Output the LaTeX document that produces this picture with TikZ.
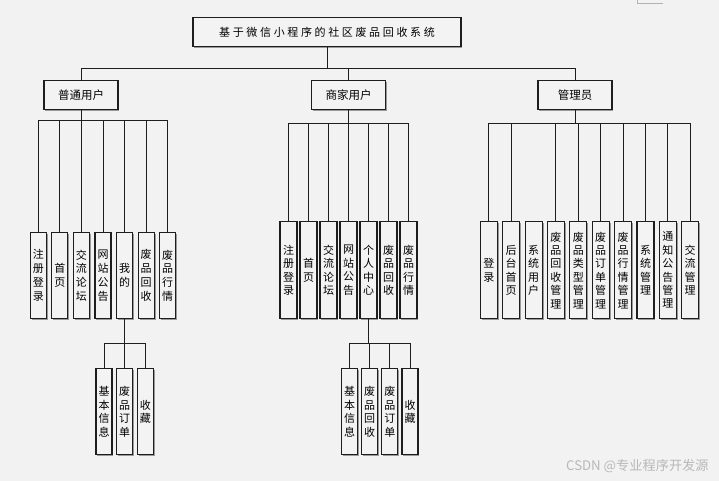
\documentclass[tikz,border=0pt]{standalone}
\usepackage{fontspec}
\setmainfont{Noto Sans CJK SC}
\newfontfamily\titlefont[LetterSpace=24]{Noto Sans CJK SC}
\usetikzlibrary{shadows}
\definecolor{bg}{HTML}{F2F2F2}
\definecolor{boxfill}{HTML}{F3F3F3}
\definecolor{ln}{HTML}{1E1E1E}
\begin{document}
\begin{tikzpicture}[x=1pt,y=-1pt,
  box/.style={draw=ln, line width=1.1pt, fill=boxfill, inner sep=0pt,
    general shadow={fill=black!40, shadow xshift=1.4pt, shadow yshift=-1.4pt}},
  topbox/.style={box, minimum width=268pt, minimum height=29pt, font=\fontsize{11}{13}\titlefont},
  midbox/.style={box, minimum width=74pt, minimum height=29pt, font=\fontsize{11.5}{13}\selectfont},
  ubox/.style={box, minimum width=16pt, minimum height=86pt, align=center, font=\fontsize{11}{13.8}\selectfont},
  mbox/.style={box, minimum width=17pt, minimum height=97pt, align=center, font=\fontsize{11}{13.4}\selectfont},
  conn/.style={draw=ln, line width=0.9pt},
  mark text/.style={text=black!28, font=\fontsize{13.2}{15}\selectfont, anchor=west, inner sep=0pt}]
\fill[bg] (0,0) rectangle (719,480);
\draw[black!30, line width=1pt] (637.3,0) -- (637.3,3.5) -- (662.7,3.5);

\node[topbox] (top) at (327,31.5) {基于微信小程序的社区废品回收系统};
\node[midbox] (u) at (81,94.5) {普通用户};
\node[midbox] (m) at (348.5,94.5) {商家用户};
\node[midbox] (a) at (575,94.5) {管理员};

\coordinate (topbus) at (0,67.5);
\coordinate (ubus) at (0,120);
\coordinate (mbus) at (0,123.3);
\coordinate (abus) at (0,123.3);
\coordinate (sbus) at (0,342.7);

% user children
\foreach \x/\n/\t in {38.3/u1/{注\\册\\登\\录}, 59.9/u2/{首\\页}, 81.4/u3/{交\\流\\论\\坛}, 103.0/u4/{网\\站\\公\\告}, 124.6/u5/{我\\的}, 146.2/u6/{废\\品\\回\\收}, 167.7/u7/{废\\品\\行\\情}}
  \node[ubox] (\n) at (\x,275) {\t};
\foreach \x/\n/\t in {104/us1/{基\\本\\信\\息}, 124.6/us2/{废\\品\\订\\单}, 145.3/us3/{收\\藏}}
  \node[ubox] (\n) at (\x,411.3) {\t};

% merchant children
\foreach \x/\n/\t in {288.5/m1/{注\\册\\登\\录}, 308.5/m2/{首\\页}, 328.5/m3/{交\\流\\论\\坛}, 348.5/m4/{网\\站\\公\\告}, 368.5/m5/{个\\人\\中\\心}, 388.5/m6/{废\\品\\回\\收}, 408.5/m7/{废\\品\\行\\情}}
  \node[mbox] (\n) at (\x,269.7) {\t};
\foreach \x/\n/\t in {349.5/ms1/{基\\本\\信\\息}, 369.7/ms2/{废\\品\\回\\收}, 389.8/ms3/{废\\品\\订\\单}, 410/ms4/{收\\藏}}
  \node[ubox] (\n) at (\x,411.3) {\t};

% admin children
\foreach \x/\n/\t in {488.8/a1/{登\\录}, 511.2/a2/{后\\台\\首\\页}, 533.6/a3/{系\\统\\用\\户}, 555.9/a4/{废\\品\\回\\收\\管\\理}, 578.3/a5/{废\\品\\类\\型\\管\\理}, 600.7/a6/{废\\品\\订\\单\\管\\理}, 623.1/a7/{废\\品\\行\\情\\管\\理}, 645.5/a8/{系\\统\\管\\理}, 667.8/a9/{通\\知\\公\\告\\管\\理}, 690.2/a10/{交\\流\\管\\理}}
  \node[mbox] (\n) at (\x,269.7) {\t};

% top level connectors
\draw[conn] (top.south) -- (top.south |- topbus);
\draw[conn] (u.north) -- (u.north |- topbus) -- (a.north |- topbus) -- (a.north);
\draw[conn] (m.north) -- (m.north |- topbus);

% user connectors
\draw[conn] (u.south) -- (u.south |- ubus);
\draw[conn] (u1.north) -- (u1.north |- ubus) -- (u7.north |- ubus) -- (u7.north);
\foreach \n in {u2,u3,u4,u5,u6}
  \draw[conn] (\n.north) -- (\n.north |- ubus);
\draw[conn] (u5.south) -- (u5.south |- sbus);
\draw[conn] (us1.north) -- (us1.north |- sbus) -- (us3.north |- sbus) -- (us3.north);
\draw[conn] (us2.north) -- (us2.north |- sbus);

% merchant connectors
\draw[conn] (m.south) -- (m.south |- mbus);
\draw[conn] (m1.north) -- (m1.north |- mbus) -- (m7.north |- mbus) -- (m7.north);
\foreach \n in {m2,m3,m4,m5,m6}
  \draw[conn] (\n.north) -- (\n.north |- mbus);
\draw[conn] (m5.south) -- (m5.south |- sbus);
\draw[conn] (ms1.north) -- (ms1.north |- sbus) -- (ms4.north |- sbus) -- (ms4.north);
\foreach \n in {ms2,ms3}
  \draw[conn] (\n.north) -- (\n.north |- sbus);

% admin connectors
\draw[conn] (a.south) -- (a.south |- abus);
\draw[conn] (a1.north) -- (a1.north |- abus) -- (a10.north |- abus) -- (a10.north);
\foreach \n in {a2,a4,a5,a6,a7,a8,a9}
  \draw[conn] (\n.north) -- (\n.north |- abus);

\node[mark text] (wm) at (566,466) {CSDN @专业程序开发源};
\end{tikzpicture}
\end{document}
